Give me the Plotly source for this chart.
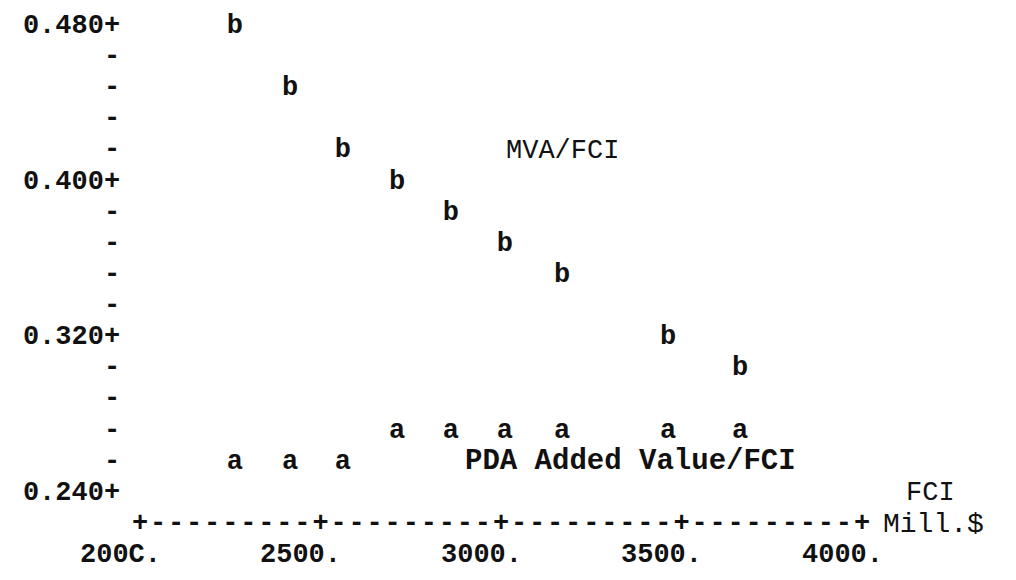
import plotly.graph_objects as go

# ---- data ----
fci = [2263, 2416, 2562, 2712, 2861, 3011, 3169, 3463, 3662]          # FCI, Mill.$
mva_fci = [0.480, 0.448, 0.416, 0.400, 0.384, 0.368, 0.352, 0.320, 0.304]  # series "b"
pda_fci = [0.256, 0.256, 0.256, 0.272, 0.272, 0.272, 0.272, 0.272, 0.272]  # series "a"

y_major = [0.480, 0.400, 0.320, 0.240]
y_major_labels = ["0.480+", "0.400+", "0.320+", "0.240+"]
y_minor = [0.464, 0.448, 0.432, 0.416, 0.384, 0.368, 0.352, 0.336,
           0.304, 0.288, 0.272, 0.256]

x_major = [2000, 2500, 3000, 3500, 4000]
x_major_labels = ["200C.", "2500.", "3000.", "3500.", "4000."]
x_minor = [v for v in range(2050, 4000, 50) if v % 500 != 0]

# ---- layout constants ----
FONT = "Liberation Mono"
SIZE = 27
INK = "#111111"
X_RANGE = [1612.2, 4426.6]
Y_RANGE = [0.19323 + 0.0021, 0.49131 + 0.0021]
Y_AXIS_X = 1922.5        # column of the y-axis marks
LABEL_X = 1945.0         # right edge of y labels
X_AXIS_ROW = 0.224
X_LABEL_ROW = 0.208

fig = go.Figure()

def txt(x, y, text, pos="middle center", size=SIZE, weight="bold"):
    fig.add_trace(go.Scatter(
        x=x, y=y, mode="text", text=text, textposition=pos,
        textfont=dict(family=FONT, size=size, color=INK, weight=weight),
        hoverinfo="skip", showlegend=False))

# series
txt(fci, mva_fci, ["b"] * len(fci))
txt(fci, pda_fci, ["a"] * len(fci))

# y axis
txt([LABEL_X] * len(y_major), y_major, y_major_labels, pos="middle left")
txt([Y_AXIS_X] * len(y_minor), y_minor, ["-"] * len(y_minor))

# x axis
txt(x_minor, [X_AXIS_ROW] * len(x_minor), ["-"] * len(x_minor))
txt(x_major, [X_AXIS_ROW] * len(x_major), ["+"] * len(x_major))

annotations = []
for xv, lab in zip(x_major, x_major_labels):
    annotations.append(dict(x=xv, y=X_LABEL_ROW, text=lab, xshift=-20,
                            showarrow=False, xref="x", yref="y",
                            font=dict(family=FONT, size=SIZE, color=INK, weight="bold")))

annotations += [
    dict(x=4191, y=0.240, text="FCI", showarrow=False, xref="x", yref="y",
         font=dict(family=FONT, size=SIZE, color=INK)),
    dict(x=4000, y=X_AXIS_ROW, text="Mill.$", showarrow=False, xref="x", yref="y",
         xanchor="left", xshift=19,
         font=dict(family=FONT, size=28, color=INK)),
    dict(x=3169, y=0.416, text="MVA/FCI", showarrow=False, xref="x", yref="y",
         font=dict(family=FONT, size=SIZE, color=INK)),
    dict(x=3360, y=0.256, text="PDA Added Value/FCI", showarrow=False, xref="x", yref="y",
         font=dict(family=FONT, size=29, color=INK, weight="bold")),
]

fig.update_layout(
    width=1016, height=580,
    margin=dict(l=0, r=0, t=0, b=0),
    paper_bgcolor="white", plot_bgcolor="white",
    xaxis=dict(visible=False, range=X_RANGE, fixedrange=True),
    yaxis=dict(visible=False, range=Y_RANGE, fixedrange=True),
    annotations=annotations,
    showlegend=False,
)

fig.write_html("out.html", config={"displayModeBar": False})
